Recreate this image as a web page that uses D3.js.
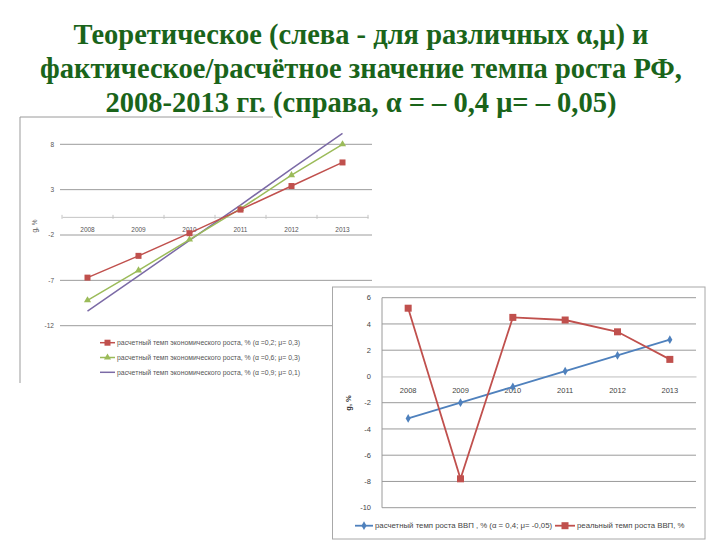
<!DOCTYPE html>
<html><head><meta charset="utf-8">
<script src="https://cdn.jsdelivr.net/npm/d3@7"></script>
<style>body{margin:0;background:#fff}svg{display:block}</style>
</head><body>
<script>
// ---- data ----
const titleLines = [
  "Теоретическое (слева - для различных α,μ) и",
  "фактическое/расчётное значение темпа роста РФ,",
  "2008-2013 гг. (справа, α = – 0,4  μ= –  0,05)"
];
const years = ["2008","2009","2010","2011","2012","2013"];
// left chart
const leftTicks = [8, 3, -2, -7, -12];
const leftRed    = [-6.7, -4.3, -1.8, 0.8, 3.4, 6.0];
const leftGreen  = [-9.2, -5.9, -2.5, 0.9, 4.6, 8.0];
const leftPurple = [-10.4, -6.5, -2.6, 1.3, 5.3, 9.2];
const leftLegend = [
  "расчетный темп экономического роста, % (α =0,2; μ= 0,3)",
  "расчетный темп экономического роста, % (α =0,6; μ= 0,3)",
  "расчетный темп экономического роста, % (α =0,9; μ= 0,1)"
];
// right chart
const rightTicks = [6, 4, 2, 0, -2, -4, -6, -8, -10];
const rightCalc = [-3.2, -2.0, -0.8, 0.4, 1.6, 2.8];
const rightReal = [5.2, -7.8, 4.5, 4.3, 3.4, 1.3];
const rightLegend = ["расчетный темп роста ВВП , % (α = 0,4; μ= -0,05)", "реальный темп роста ВВП, %"];
const axisLabel = "g, %";

const W = 720, H = 540;
const SANS = "'Liberation Sans', Arial, sans-serif";
const SERIF = "'Liberation Serif', 'Times New Roman', serif";
const svg = d3.select("body").append("svg").attr("width", W).attr("height", H);
svg.append("rect").attr("width", W).attr("height", H).attr("fill", "#fff");

// ---- title ----
const titleG = svg.append("g");
titleLines.forEach((t, i) => {
  titleG.append("text").attr("x", 361).attr("y", 44 + i * 34)
    .attr("text-anchor", "middle")
    .attr("font-family", SERIF)
    .attr("font-weight", "bold").attr("font-size", 28.5)
    .attr("fill", "#1a641a").text(t);
});

// ---- left chart ----
const L = svg.append("g");
L.append("line").attr("x1", 20).attr("x2", 20).attr("y1", 117).attr("y2", 383).attr("stroke", "#bdbdbd").attr("stroke-width", 1.5);
L.append("line").attr("x1", 20).attr("x2", 273).attr("y1", 117).attr("y2", 117).attr("stroke", "#9a9a9a").attr("stroke-width", 1);

const lx = d3.scaleBand().domain(years).range([62, 368]);
const ly = d3.scaleLinear().domain([-12, 8]).range([325.7, 144.3]);
const lc = d => lx(d) + lx.bandwidth() / 2;

leftTicks.forEach(t => {
  L.append("line").attr("x1", 60).attr("x2", 372).attr("y1", ly(t)).attr("y2", ly(t)).attr("stroke", "#9c9c9c").attr("stroke-width", 1);
  L.append("text").attr("x", 54).attr("y", ly(t) + 2.3).attr("text-anchor", "end")
    .attr("font-family", SANS).attr("font-size", 6.5).attr("fill", "#555").text(t);
});
// zero category axis
const lAxis = L.append("g").attr("transform", `translate(0,${ly(0)})`)
  .call(d3.axisBottom(lx).tickSize(0).tickFormat(""));
lAxis.select(".domain").attr("stroke", "#c4c4c4");
L.append("g").selectAll("line").data(d3.range(7)).join("line")
  .attr("x1", i => 62 + i * lx.step()).attr("x2", i => 62 + i * lx.step())
  .attr("y1", ly(0) - 2).attr("y2", ly(0) + 2).attr("stroke", "#c4c4c4");
L.append("g").selectAll("text").data(years).join("text")
  .attr("x", d => lc(d)).attr("y", ly(0) + 15).attr("text-anchor", "middle")
  .attr("font-family", SANS).attr("font-size", 6.5).attr("fill", "#555").text(d => d);
L.append("text").attr("transform", `translate(37,226) rotate(-90)`).attr("text-anchor", "middle")
  .attr("font-family", SANS).attr("font-size", 6.5).attr("fill", "#555").text(axisLabel);

const lline = d3.line().x((d, i) => lc(years[i])).y(d => ly(d));
L.append("path").datum(leftPurple).attr("d", lline).attr("fill", "none").attr("stroke", "#7b6aa6").attr("stroke-width", 1.5);
L.append("path").datum(leftGreen).attr("d", lline).attr("fill", "none").attr("stroke", "#9bbb59").attr("stroke-width", 1.5);
L.append("path").datum(leftRed).attr("d", lline).attr("fill", "none").attr("stroke", "#c0504d").attr("stroke-width", 1.5);
const tri = d3.symbol().type(d3.symbolTriangle).size(22);
L.append("g").selectAll("path").data(leftGreen).join("path")
  .attr("d", tri).attr("transform", (d, i) => `translate(${lc(years[i])},${ly(d)})`).attr("fill", "#9bbb59");
L.append("g").selectAll("rect").data(leftRed).join("rect")
  .attr("x", (d, i) => lc(years[i]) - 3).attr("y", d => ly(d) - 3).attr("width", 6).attr("height", 6).attr("fill", "#c0504d");

// left legend
const legCols = ["#c0504d", "#9bbb59", "#7b6aa6"];
leftLegend.forEach((t, i) => {
  const y = 342.7 + i * 14.8;
  L.append("line").attr("x1", 100).attr("x2", 115).attr("y1", y).attr("y2", y).attr("stroke", legCols[i]).attr("stroke-width", 1.5);
  if (i === 0) L.append("rect").attr("x", 104.5).attr("y", y - 3).attr("width", 6).attr("height", 6).attr("fill", legCols[0]);
  if (i === 1) L.append("path").attr("d", tri).attr("transform", `translate(107.5,${y})`).attr("fill", legCols[1]);
  L.append("text").attr("x", 117).attr("y", y + 2.4)
    .attr("font-family", SANS).attr("font-size", 6.9).attr("fill", "#555").text(t);
});

// ---- right chart ----
const R = svg.append("g");
R.append("rect").attr("x", 332.5).attr("y", 287).attr("width", 372.5).attr("height", 252)
  .attr("fill", "#fff").attr("stroke", "#a8a8a8").attr("stroke-width", 1);

const rx = d3.scaleBand().domain(years).range([382, 696]);
const ry = d3.scaleLinear().domain([-10, 6]).range([507.7, 297.7]);
const rc = d => rx(d) + rx.bandwidth() / 2;

rightTicks.forEach(t => {
  if (t !== 0) R.append("line").attr("x1", 382).attr("x2", 696).attr("y1", ry(t)).attr("y2", ry(t)).attr("stroke", "#9a9a9a").attr("stroke-width", 1);
  R.append("text").attr("x", 371).attr("y", ry(t) + 2.6).attr("text-anchor", "end")
    .attr("font-family", SANS).attr("font-size", 7.5).attr("fill", "#444").text(t);
});
R.append("g").attr("transform", `translate(0,${ry(0)})`)
  .call(d3.axisBottom(rx).tickSize(0).tickFormat(""))
  .select(".domain").attr("stroke", "#bdbdbd");
R.append("line").attr("x1", 382).attr("x2", 382).attr("y1", ry(6)).attr("y2", ry(-10)).attr("stroke", "#9a9a9a");
R.append("g").selectAll("text").data(years).join("text")
  .attr("x", d => rc(d)).attr("y", ry(0) + 17).attr("text-anchor", "middle")
  .attr("font-family", SANS).attr("font-size", 7.5).attr("fill", "#444").text(d => d);
R.append("text").attr("transform", `translate(351,403) rotate(-90)`).attr("text-anchor", "middle")
  .attr("font-family", SANS).attr("font-weight", "bold").attr("font-size", 7.5).attr("fill", "#333").text(axisLabel);

const rline = d3.line().x((d, i) => rc(years[i])).y(d => ry(d));
R.append("path").datum(rightCalc).attr("d", rline).attr("fill", "none").attr("stroke", "#4f81bd").attr("stroke-width", 1.8);
R.append("path").datum(rightReal).attr("d", rline).attr("fill", "none").attr("stroke", "#c0504d").attr("stroke-width", 1.8);
const dia = d3.symbol().type(d3.symbolDiamond).size(22);
R.append("g").selectAll("path").data(rightCalc).join("path")
  .attr("d", dia).attr("transform", (d, i) => `translate(${rc(years[i])},${ry(d)})`).attr("fill", "#4f81bd");
R.append("g").selectAll("rect").data(rightReal).join("rect")
  .attr("x", (d, i) => rc(years[i]) - 3.5).attr("y", d => ry(d) - 3.5).attr("width", 7).attr("height", 7).attr("fill", "#c0504d");

// right legend
const ly2 = 525.7;
R.append("line").attr("x1", 355).attr("x2", 373).attr("y1", ly2).attr("y2", ly2).attr("stroke", "#4f81bd").attr("stroke-width", 1.8);
R.append("path").attr("d", dia).attr("transform", `translate(364,${ly2})`).attr("fill", "#4f81bd");
R.append("text").attr("x", 375).attr("y", ly2 + 2.7)
  .attr("font-family", SANS).attr("font-size", 7.8).attr("fill", "#444").text(rightLegend[0]);
R.append("line").attr("x1", 555).attr("x2", 575).attr("y1", ly2).attr("y2", ly2).attr("stroke", "#c0504d").attr("stroke-width", 1.8);
R.append("rect").attr("x", 561.5).attr("y", ly2 - 3.5).attr("width", 7).attr("height", 7).attr("fill", "#c0504d");
R.append("text").attr("x", 577).attr("y", ly2 + 2.7)
  .attr("font-family", SANS).attr("font-size", 7.8).attr("fill", "#444").text(rightLegend[1]);
</script>
</body></html>
